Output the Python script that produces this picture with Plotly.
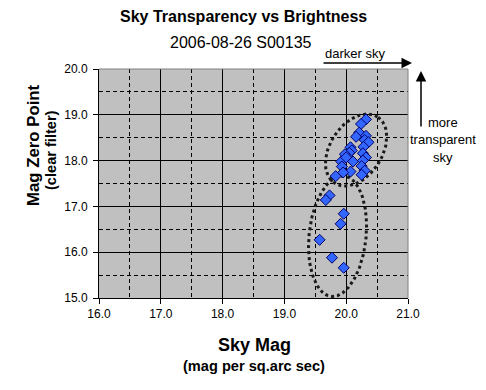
import numpy as np
import plotly.graph_objects as go

# ---- data ----
sky_mag = [20.32, 20.24, 20.21, 20.16, 20.32, 20.30, 20.36, 20.28, 20.07, 20.09,
           20.05, 19.98, 20.27, 19.92, 20.00, 20.11, 20.32, 20.27, 19.93, 20.25,
           20.30, 20.07, 19.95, 20.25, 19.83, 19.73, 19.67, 19.96, 19.91, 19.57,
           19.77, 19.96]
zero_point = [18.90, 18.80, 18.61, 18.52, 18.54, 18.45, 18.40, 18.30, 18.29, 18.22,
              18.17, 18.14, 18.16, 17.98, 18.07, 17.98, 18.07, 18.00, 17.87, 17.88,
              17.78, 17.76, 17.74, 17.69, 17.66, 17.24, 17.14, 16.84, 16.62, 16.27,
              15.88, 15.66]
x_ticks = [16.0, 17.0, 18.0, 19.0, 20.0, 21.0]
y_ticks = [15.0, 16.0, 17.0, 18.0, 19.0, 20.0]

# ---- layout geometry ----
W, H = 486, 390
L, R, T, B = 99, 78, 69, 92
PW, PH = W - L - R, H - T - B
XR, YR = (16, 21), (15, 20)
sx = PW / (XR[1] - XR[0])
sy = PH / (YR[1] - YR[0])

def px(x):
    return (x - L) / PW

def py(y):
    return (H - B - y) / PH

def ellipse(cx, cy, a, b, theta_deg, n=200):
    t = np.linspace(0, 2 * np.pi, n)
    th = np.radians(theta_deg)
    dx = a * np.cos(th) * np.cos(t) - b * np.sin(th) * np.sin(t)
    dy = a * np.sin(th) * np.cos(t) + b * np.cos(th) * np.sin(t)
    return cx + dx / sx, cy + dy / sy

fig = go.Figure()

for (cx, cy, a, b, th) in [(20.16, 18.23, 39.5, 26, 57), (19.86, 16.35, 60.5, 28.5, 84)]:
    ex, ey = ellipse(cx, cy, a, b, th)
    fig.add_trace(go.Scatter(x=ex, y=ey, mode="lines",
                             line=dict(color="#1a1a1a", width=3, dash="dot"),
                             hoverinfo="skip", showlegend=False))

fig.add_trace(go.Scatter(x=sky_mag, y=zero_point, mode="markers",
                         marker=dict(symbol="diamond", size=8.5, color="#3366FF",
                                     line=dict(color="#000066", width=1)),
                         showlegend=False))

font = "Liberation Sans, Arial, sans-serif"
axis_common = dict(showgrid=True, gridcolor="black", gridwidth=1,
                   showline=True, linecolor="black", linewidth=1,
                   ticks="outside", ticklen=5, tickcolor="black",
                   tickformat=".1f", zeroline=False,
                   tickfont=dict(family=font, size=12, color="black"),
                   minor=dict(dtick=0.5, showgrid=True, gridcolor="black",
                              griddash="4px,3px", gridwidth=1, ticks=""))

fig.update_xaxes(range=list(XR), tickvals=x_ticks, ticklabelstandoff=0, **axis_common)
fig.update_yaxes(range=list(YR), tickvals=y_ticks, ticklabelstandoff=3, **axis_common)

anns = []
def text(s, x, y, size, bold=False, angle=0):
    anns.append(dict(text=f"<b>{s}</b>" if bold else s, x=px(x), y=py(y),
                     xref="paper", yref="paper", showarrow=False,
                     xanchor="center", yanchor="middle", textangle=angle,
                     font=dict(family=font, size=size, color="black")))

text("Sky Transparency vs Brightness", 243, 17, 16, True)
text("2006-08-26 S00135", 241, 42, 16)
text("Sky Mag", 254, 345, 18, True)
text("(mag per sq.arc sec)", 254, 366, 14.6, True)
text("Mag Zero Point", 33, 145, 16.8, True, -90)
text("(clear filter)", 51, 150, 14.6, True, -90)
text("darker sky", 355, 53, 13)
text("more", 443, 122, 13)
text("transparent", 443, 139, 13)
text("sky", 443, 157, 13)

# arrows
anns.append(dict(x=px(412), y=py(63), ax=-90, ay=0, xref="paper", yref="paper",
                 axref="pixel", ayref="pixel", text="", showarrow=True,
                 arrowhead=2, arrowsize=1.4, arrowwidth=1.5, arrowcolor="black"))
anns.append(dict(x=px(421), y=py(71), ax=0, ay=57, xref="paper", yref="paper",
                 axref="pixel", ayref="pixel", text="", showarrow=True,
                 arrowhead=2, arrowsize=1.4, arrowwidth=1.5, arrowcolor="black"))

shapes = [
    dict(type="line", xref="paper", yref="paper", x0=0, x1=1, y0=1, y1=1,
         line=dict(color="#808080", width=1)),
    dict(type="line", xref="paper", yref="paper", x0=1, x1=1, y0=0, y1=1,
         line=dict(color="#808080", width=1)),
]

fig.update_layout(width=W, height=H, margin=dict(l=L, r=R, t=T, b=B),
                  paper_bgcolor="white", plot_bgcolor="#C0C0C0",
                  annotations=anns, shapes=shapes, showlegend=False,
                  font=dict(family=font))

fig.write_html("out.html", config={"displayModeBar": False},
               post_script="document.body.style.margin='0';")
